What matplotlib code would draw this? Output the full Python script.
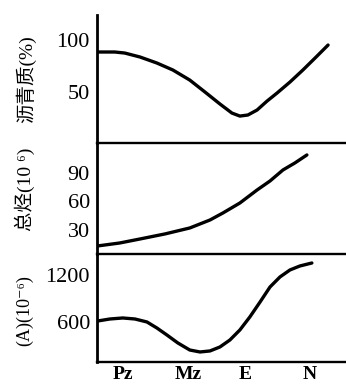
import matplotlib.pyplot as plt

plt.rcParams['font.family'] = ['Liberation Serif', 'Noto Sans CJK SC', 'DejaVu Sans']

categories = ['Pz', 'Mz', 'E', 'N']
cat_pos = [1.04, 3.68, 5.94, 8.55]

# 沥青质 (%)
asph_x = [0.04, 0.72, 1.12, 1.73, 2.41, 3.05, 3.73, 4.34, 4.94, 5.42, 5.74,
          6.06, 6.43, 6.83, 7.23, 7.75, 8.27, 8.80, 9.28]
asph_y = [88.5, 88.5, 87.5, 83.7, 77.9, 71.2, 61.5, 50.0, 38.5, 29.8, 26.9,
          27.9, 32.7, 41.3, 49.0, 59.6, 71.2, 83.7, 95.2]

# 总烃 (10^-6)
hc_x = [0.04, 0.92, 1.73, 2.73, 3.73, 4.54, 5.06, 5.74, 6.43, 6.95, 7.47, 7.95, 8.43]
hc_y = [13.2, 16.3, 20.5, 25.8, 32.1, 40.5, 47.9, 58.4, 72.1, 81.6, 93.2, 100.6, 109.0]

# (A) (10^-6)
a_x = [0.04, 0.52, 1.04, 1.53, 2.01, 2.41, 2.81, 3.25, 3.73, 4.14, 4.54,
       4.94, 5.34, 5.74, 6.14, 6.55, 6.95, 7.35, 7.75, 8.15, 8.63]
a_y = [613, 638, 651, 638, 600, 523, 434, 332, 242, 217, 230,
       281, 370, 498, 664, 855, 1047, 1175, 1264, 1315, 1353]

fig = plt.figure(figsize=(3.46, 3.87), dpi=100)
ax1 = fig.add_axes([0.28, 0.6305, 0.72, 0.3305])
ax2 = fig.add_axes([0.28, 0.3437, 0.72, 0.2868])
ax3 = fig.add_axes([0.28, 0.0646, 0.72, 0.2791])

panels = [
    (ax1, asph_x, asph_y, (1, 124), [50, 100]),
    (ax2, hc_x, hc_y, (4.7, 121.6), [30, 60, 90]),
    (ax3, a_x, a_y, (89, 1468), [600, 1200]),
]
for ax, xs, ys, lim, ticks in panels:
    ax.patch.set_visible(False)
    ax.plot(xs, ys, color='black', lw=2.4, solid_capstyle='round',
            solid_joinstyle='round')
    ax.set_xlim(0, 10)
    ax.set_ylim(*lim)
    ax.set_yticks(ticks)
    ax.tick_params(axis='y', length=0, pad=5, labelsize=16)
    ax.spines['top'].set_visible(False)
    ax.spines['right'].set_visible(False)
    ax.spines['left'].set_linewidth(2)
    ax.spines['bottom'].set_linewidth(1.7)
    ax.set_xticks([])

ax3.set_xticks(cat_pos)
ax3.set_xticklabels(categories, fontsize=14, fontweight='bold')
ax3.tick_params(axis='x', length=0, pad=3)

fig.text(0.075, 1 - 79 / 387, '沥青质(%)', rotation=90, ha='center', va='center', fontsize=14)
fig.text(0.072, 1 - 189 / 387, '总烃(10 ⁶)', rotation=90, ha='center', va='center', fontsize=14)
fig.text(0.072, 1 - 311 / 387, '(A)(10⁻⁶)', rotation=90, ha='center', va='center', fontsize=13)

fig.savefig('out.png', dpi=100)
